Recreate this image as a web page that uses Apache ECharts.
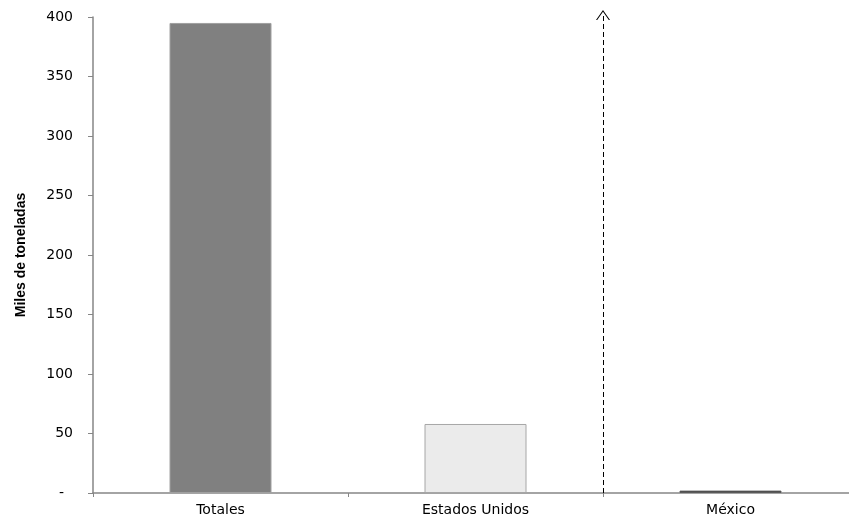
<!DOCTYPE html>
<html>
<head>
<meta charset="utf-8">
<script src="https://cdn.jsdelivr.net/npm/echarts@6/dist/echarts.min.js"></script>
<style>html,body{margin:0;padding:0;background:#fff;overflow:hidden;width:849px;height:521px}#c{width:858px;height:521px}</style>
</head>
<body>
<div id="c"></div>
<script>
var categories = ['Totales', 'Estados Unidos', 'México'];
var values = [395, 58, 2];
var yTicks = [0, 50, 100, 150, 200, 250, 300, 350, 400];
var dividerAt = 2;      // boundary between "Estados Unidos" and "México" (category index)

var barFill = ['#808080', '#ebebeb', '#404040'];
var barBorder = ['#a0a0a0', '#a6a6a6', '#5a5a5a'];

var chart = echarts.init(document.getElementById('c'));
chart.setOption({
  animation: false,
  backgroundColor: '#ffffff',
  grid: [
    { left: 93, top: 17, bottom: 28, right: 0, containLabel: false },
    { left: 93, top: 15, bottom: 28, right: 0, containLabel: false }
  ],
  xAxis: [{
    type: 'category',
    gridIndex: 0,
    data: categories,
    axisLine: { lineStyle: { color: '#868686', width: 1.5 } },
    axisTick: { show: true, length: 4, lineStyle: { color: '#868686' } },
    axisLabel: { color: '#000', fontFamily: 'DejaVu Sans', fontSize: 14, margin: 10 },
    splitLine: { show: false }
  }, {
    type: 'value', gridIndex: 1, min: 0, max: categories.length, show: false
  }],
  yAxis: [{
    type: 'value',
    gridIndex: 0,
    min: yTicks[0],
    max: yTicks[yTicks.length - 1],
    interval: yTicks[1] - yTicks[0],
    name: 'Miles de toneladas',
    nameLocation: 'middle',
    nameGap: 65,
    nameTextStyle: { color: '#000', fontFamily: 'Liberation Sans', fontWeight: 'bold', fontSize: 14 },
    axisLine: { show: true, lineStyle: { color: '#868686', width: 1.5 } },
    axisTick: { show: true, length: 5, lineStyle: { color: '#868686' } },
    axisLabel: {
      color: '#000', fontFamily: 'DejaVu Sans', fontSize: 14, margin: 20,
      formatter: function (v) { return v === 0 ? '-\u00a0\u00a0' : String(v); }
    },
    splitLine: { show: false }
  }, {
    type: 'value', gridIndex: 1, min: 0, max: 1, show: false
  }],
  series: [{
    type: 'bar',
    xAxisIndex: 0,
    yAxisIndex: 0,
    barWidth: '40%',
    data: values.map(function (v, i) {
      return { value: v, itemStyle: { color: barFill[i], borderColor: barBorder[i], borderWidth: 1 } };
    })
  }, {
    type: 'line',
    xAxisIndex: 1,
    yAxisIndex: 1,
    data: [[dividerAt, 0]],
    symbol: 'none',
    showSymbol: false,
    lineStyle: { opacity: 0 },
    markLine: {
      silent: true,
      animation: false,
      symbol: ['none', 'path://M0,10 L7,0 L14,10 L12.8,10 L7,1.8 L1.2,10 Z'],
      symbolSize: [14, 10],
      label: { show: false },
      lineStyle: { color: '#000', type: [5, 3], width: 1 },
      data: [[{ coord: [dividerAt, 0] }, { coord: [dividerAt, 1] }]]
    }
  }]
});
</script>
</body>
</html>
